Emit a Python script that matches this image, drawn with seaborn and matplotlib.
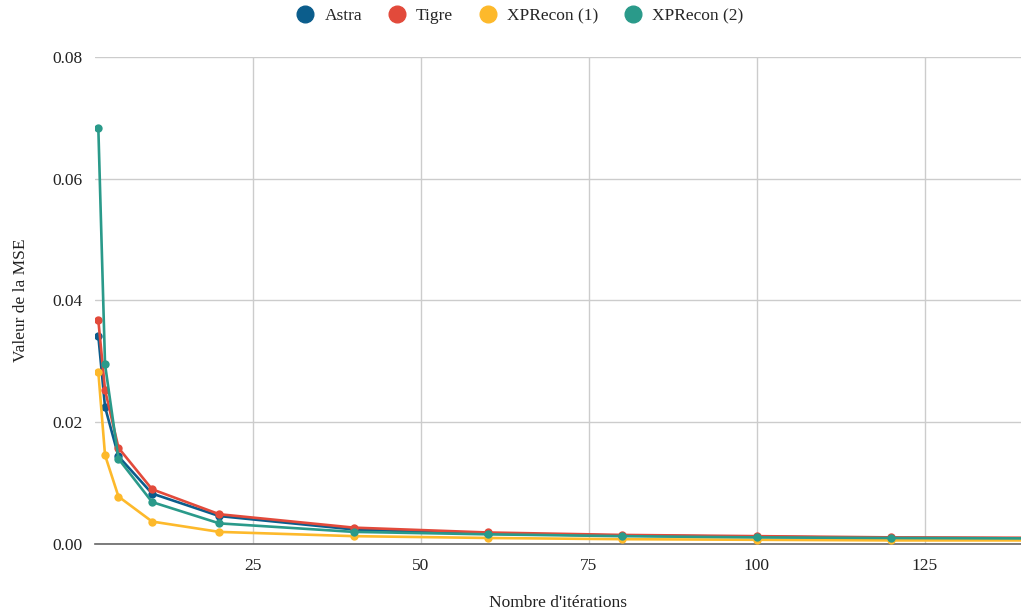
import matplotlib
matplotlib.use("Agg")
import matplotlib.pyplot as plt
from matplotlib.lines import Line2D
import seaborn as sns
import pandas as pd

iterations = [2, 3, 5, 10, 20, 40, 60, 80, 100, 120, 150]
astra = [0.0342, 0.0225, 0.0144, 0.0083, 0.0046, 0.0024, 0.0017, 0.0014, 0.0012, 0.0010, 0.0009]
tigre = [0.0368, 0.0253, 0.0158, 0.0090, 0.0049, 0.0027, 0.0019, 0.0015, 0.0013, 0.0011, 0.0010]
xprecon1 = [0.0283, 0.0146, 0.0078, 0.0037, 0.0020, 0.0013, 0.0010, 0.0008, 0.0007, 0.0006, 0.0006]
xprecon2 = [0.0684, 0.0295, 0.0140, 0.0069, 0.0034, 0.0020, 0.0016, 0.0013, 0.0011, 0.0010, 0.0009]
series_names = ["Astra", "Tigre", "XPRecon (1)", "XPRecon (2)"]
colors = ["#0b5d8c", "#e24a3b", "#fdb92b", "#2a9a8a"]
x_ticks = [25, 50, 75, 100, 125]
y_ticks = [0.00, 0.02, 0.04, 0.06, 0.08]

rows = []
for name, vals in zip(series_names, [astra, tigre, xprecon1, xprecon2]):
    for x, v in zip(iterations, vals):
        rows.append({"it": x, "mse": v, "series": name})
df = pd.DataFrame(rows)

sns.set_theme(style="white")
plt.rcParams["font.family"] = ["Liberation Serif", "DejaVu Serif"]

fig = plt.figure(figsize=(10.21, 6.12), dpi=100)
ax = fig.add_axes([0.093, 0.111, 0.907, 0.796])

sns.lineplot(data=df, x="it", y="mse", hue="series", hue_order=series_names,
             palette=colors, marker="o", markersize=6, markeredgewidth=0,
             linewidth=1.9, ax=ax, legend=False, zorder=3)

ax.set_xlim(1.5, 139.3)
ax.set_ylim(0, 0.08)
ax.set_xticks(x_ticks)
ax.set_yticks(y_ticks)
ax.set_yticklabels([f"{v:.2f}" for v in y_ticks])
ax.grid(True, color="#cccccc", linewidth=1)
for s in ["top", "right", "left"]:
    ax.spines[s].set_visible(False)
ax.spines["bottom"].set_color("#666666")
ax.spines["bottom"].set_linewidth(1.2)
ax.tick_params(axis="y", length=5, color="#cccccc", labelsize=12.5, pad=4, labelcolor="#222222")
ax.tick_params(axis="x", length=0, labelsize=12.5, pad=10, labelcolor="#222222")
ax.set_xlabel("Nombre d'itérations", fontsize=12.5, labelpad=15, color="#222222")
ax.set_ylabel("Valeur de la MSE", fontsize=12.5, labelpad=17, color="#222222")

handles = [Line2D([], [], marker="o", linestyle="", markersize=12, color=c) for c in colors]
fig.legend(handles, series_names, loc="upper center", bbox_to_anchor=(0.507, 1.012),
           ncol=4, frameon=False, fontsize=12.5, handletextpad=0.35, columnspacing=1.25,
           handlelength=1.5)

fig.savefig("out.png", dpi=100)
